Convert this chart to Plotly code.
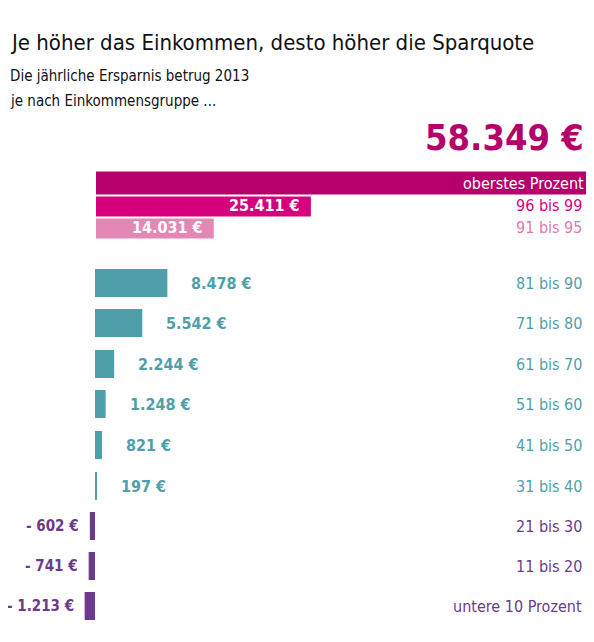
import plotly.graph_objects as go

groups = ["oberstes Prozent", "96 bis 99", "91 bis 95", "81 bis 90", "71 bis 80", "61 bis 70",
          "51 bis 60", "41 bis 50", "31 bis 40", "21 bis 30", "11 bis 20", "untere 10 Prozent"]
savings = [58349, 25411, 14031, 8478, 5542, 2244, 1248, 821, 197, -602, -741, -1213]
value_labels = ["58.349 €", "25.411 €", "14.031 €", "8.478 €", "5.542 €", "2.244 €",
                "1.248 €", "821 €", "197 €", "- 602 €", "- 741 €", "- 1.213 €"]

# vertical slot of each row (page pixel units, reversed axis)
rows = [183, 205, 227, 283, 323, 364, 404, 445, 486, 526, 566, 606]
heights = [25, 25, 25, 28, 28, 28, 28, 28, 28, 28, 28, 28]
colors = ["#b5006b", "#d6007f", "#e388b5"] + ["#4f9fab"] * 6 + ["#6b3a8c"] * 3
label_colors = ["#ffffff", "#d6007f", "#e07aae"] + ["#4f9fab"] * 6 + ["#6b3a8c"] * 3

FONT = "DejaVu Sans Condensed, Roboto Condensed, Roboto, sans-serif"
fig = go.Figure()

# draw in reverse so upper top bars overlap lower ones
for i in reversed(range(len(groups))):
    fig.add_trace(go.Bar(
        x=[savings[i]], y=[rows[i]], width=heights[i], orientation="h",
        marker=dict(color=colors[i], line=dict(color="white", width=2 if i < 3 else 0)),
        hoverinfo="skip", showlegend=False))

ann = []
for i, g in enumerate(groups):
    ann.append(dict(x=1, xref="paper", xanchor="right", xshift=-8 if i == 0 else -10, y=rows[i], yref="y",
                    text=g, showarrow=False,
                    font=dict(family=FONT, size=16, color=label_colors[i])))
    v = savings[i]
    if i == 0:
        continue
    if i in (1, 2):
        ann.append(dict(x=v, y=rows[i], xanchor="right", xshift=-10, text="<b>%s</b>" % value_labels[i],
                        showarrow=False, font=dict(family=FONT, size=16, color="white")))
    elif v > 0:
        ann.append(dict(x=v, y=rows[i], xanchor="left", xshift=22, text="<b>%s</b>" % value_labels[i],
                        showarrow=False, font=dict(family=FONT, size=16, color=colors[i])))
    else:
        ann.append(dict(x=v, y=rows[i], xanchor="right", xshift=-9, text="<b>%s</b>" % value_labels[i],
                        showarrow=False, font=dict(family=FONT, size=15, color=colors[i])))

ann.append(dict(x=1, xref="paper", xanchor="right", xshift=-8, y=137, yref="y",
                text="<b>%s</b>" % value_labels[0], showarrow=False,
                font=dict(family=FONT, size=36, color="#b5006b")))
ann.append(dict(x=0, xref="paper", xanchor="left", y=42, yref="y",
                text="Je höher das Einkommen, desto höher die Sparquote", showarrow=False,
                font=dict(family=FONT, size=22, color="#111111")))
ann.append(dict(x=0, xref="paper", xanchor="left", y=76, yref="y",
                text="Die jährliche Ersparnis betrug 2013", showarrow=False,
                font=dict(family=FONT, size=15, color="#111111")))
ann.append(dict(x=0, xref="paper", xanchor="left", y=101, yref="y",
                text="je nach Einkommensgruppe ...", showarrow=False,
                font=dict(family=FONT, size=15, color="#111111")))

# the page has an 8px body margin, so the figure is 8px smaller and offset
px_per_eur = 498 / 58349
W, H = 586, 634
fig.update_layout(
    width=W, height=H, margin=dict(l=0, r=0, t=0, b=0),
    paper_bgcolor="white", plot_bgcolor="white", barmode="overlay",
    xaxis=dict(range=[-87 / px_per_eur, (W - 87) / px_per_eur], visible=False, fixedrange=True),
    yaxis=dict(range=[642, 8], visible=False, fixedrange=True),
    annotations=ann,
)
fig.write_html("out.html")
